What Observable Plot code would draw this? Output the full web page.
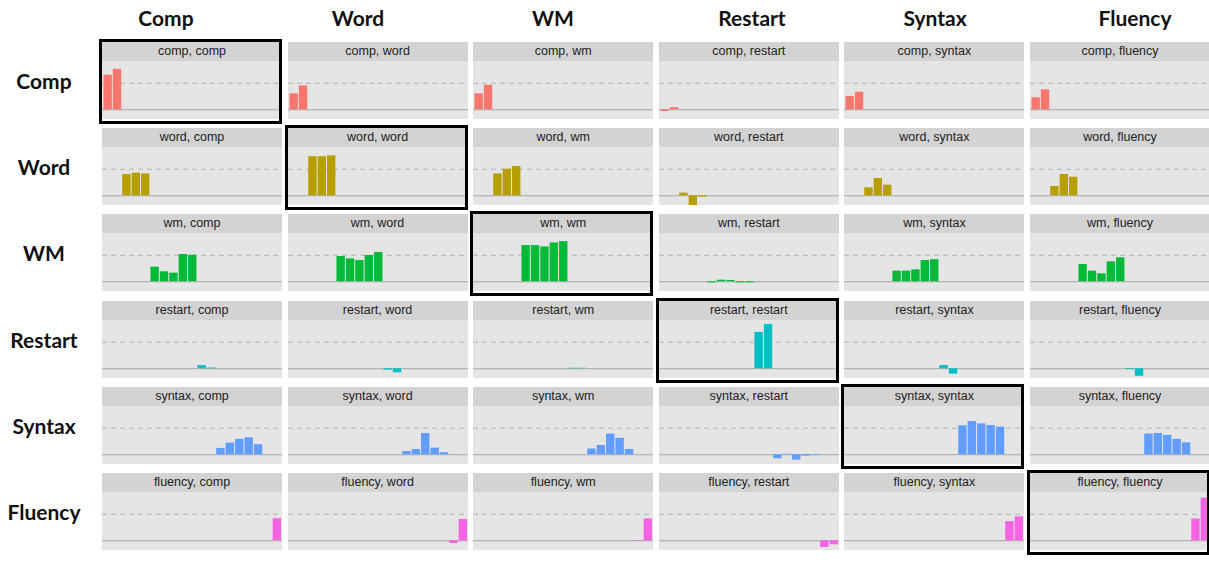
<!DOCTYPE html>
<html>
<head>
<meta charset="utf-8">
<script src="https://cdn.jsdelivr.net/npm/d3@7"></script>
<script src="https://cdn.jsdelivr.net/npm/@observablehq/plot@0.6"></script>
<style>
  html, body { margin: 0; padding: 0; background: #fff; }
  #root { position: relative; width: 1209px; height: 569px; overflow: hidden; font-family: "Liberation Sans", Arial, sans-serif; }
  .colhead, .rowhead { position: absolute; font-family: Lato, "Open Sans", sans-serif; font-weight: 700; font-size: 21px; color: #111; white-space: nowrap; }
  .colhead { top: 5px; transform: translateX(-50%); }
  .rowhead { transform: translate(-50%, -50%); }
  .cell { position: absolute; width: 180px; }
  .strip { height: 19px; line-height: 19px; background: #d3d3d3; text-align: center; font-size: 12.5px; color: #222; }
  .cell svg { display: block; }
  .box { position: absolute; border: 3px solid #000; box-sizing: border-box; }
</style>
</head>
<body>
<div id="root"></div>
<script>
// ---- data ----
const vars = ["comp", "word", "wm", "restart", "syntax", "fluency"];
const varLabels = ["Comp", "Word", "WM", "Restart", "Syntax", "Fluency"];
const colors = ["#F8766D", "#B79F00", "#00BA38", "#00BFC4", "#619CFF", "#F564E3"];
// item positions (x) belonging to each row variable
const compItems = [1, 2];
const wordItems = [3, 4, 5];
const wmItems = [6, 7, 8, 9, 10];
const restartItems = [11, 12];
const syntaxItems = [13, 14, 15, 16, 17];
const fluencyItems = [18, 19];
// bar values: row variable -> one array per column variable (comp, word, wm, restart, syntax, fluency)
const compValues = [
  [1.30, 1.52], [0.60, 0.90], [0.60, 0.92], [-0.06, 0.08], [0.50, 0.66], [0.45, 0.75]
];
const wordValues = [
  [0.80, 0.85, 0.82], [1.47, 1.47, 1.50], [0.82, 1.00, 1.10],
  [0.10, -0.37, -0.05], [0.30, 0.65, 0.40], [0.35, 0.80, 0.70]
];
const wmValues = [
  [0.55, 0.375, 0.325, 1.025, 1.00], [0.95, 0.86, 0.80, 0.99, 1.10],
  [1.36, 1.36, 1.31, 1.46, 1.51], [-0.04, 0.06, 0.05, -0.04, -0.04],
  [0.40, 0.40, 0.45, 0.80, 0.83], [0.65, 0.40, 0.30, 0.75, 0.90]
];
const restartValues = [
  [0.12, 0.03], [-0.05, -0.15], [0.02, 0.02], [1.37, 1.67], [0.12, -0.20], [-0.03, -0.28]
];
const syntaxValues = [
  [0.24, 0.44, 0.58, 0.64, 0.38], [0.12, 0.20, 0.80, 0.25, 0.08],
  [0.22, 0.35, 0.78, 0.62, 0.20], [-0.15, 0.02, -0.20, -0.05, -0.03],
  [1.09, 1.25, 1.16, 1.10, 1.04], [0.78, 0.80, 0.73, 0.58, 0.45]
];
const fluencyValues = [
  [0.00, 0.83], [-0.10, 0.80], [-0.02, 0.82], [-0.25, -0.15], [0.72, 0.90], [0.82, 1.60]
];
const refLine = [1];

// ---- layout ----
const items = [compItems, wordItems, wmItems, restartItems, syntaxItems, fluencyItems];
const values = [compValues, wordValues, wmValues, restartValues, syntaxValues, fluencyValues];
const colLeft = j => 102 + 185.6 * j;
const rowTop = i => 42 + 86.2 * i;
const panelW = 180, panelH = 58;
const colHeadX = [166, 358, 553, 752, 935, 1135];
const rowHeadX = 44;

const root = document.getElementById("root");

varLabels.forEach((lab, j) => {
  const d = document.createElement("div");
  d.className = "colhead";
  d.style.left = colHeadX[j] + "px";
  d.textContent = lab;
  root.appendChild(d);
});
varLabels.forEach((lab, i) => {
  const d = document.createElement("div");
  d.className = "rowhead";
  d.style.left = rowHeadX + "px";
  d.style.top = (rowTop(i) + 38) + "px";
  d.textContent = lab;
  root.appendChild(d);
});

vars.forEach((rv, i) => {
  vars.forEach((cv, j) => {
    const cell = document.createElement("div");
    cell.className = "cell";
    cell.style.left = colLeft(j) + "px";
    cell.style.top = rowTop(i) + "px";
    const strip = document.createElement("div");
    strip.className = "strip";
    strip.textContent = rv + ", " + cv;
    cell.appendChild(strip);
    const data = items[i].map((x, k) => ({x, v: values[i][j][k]}));
    const chart = Plot.plot({
      width: panelW,
      height: panelH,
      margin: 0,
      x: {domain: [0.4, 19.55], axis: null},
      y: {domain: [-0.365, 1.816], axis: null},
      style: {background: "#e5e5e5", overflow: "visible"},
      marks: [
        Plot.ruleY(refLine, {stroke: "#b4b4b4", strokeDasharray: "5,4", strokeWidth: 1.1}),
        Plot.ruleY([0], {stroke: "#a6a6a6", strokeWidth: 1.1}),
        Plot.rectY(data, {x1: d => d.x - 0.5, x2: d => d.x + 0.5, y: "v", fill: colors[i], insetLeft: 0.5, insetRight: 0.5})
      ]
    });
    cell.appendChild(chart);
    root.appendChild(cell);
    if (i === j) {
      const b = document.createElement("div");
      b.className = "box";
      b.style.left = (colLeft(j) - 3) + "px";
      b.style.top = (rowTop(i) - 3) + "px";
      b.style.width = (panelW + 3) + "px";
      b.style.height = (19 + panelH + 8) + "px";
      root.appendChild(b);
    }
  });
});
</script>
</body>
</html>
